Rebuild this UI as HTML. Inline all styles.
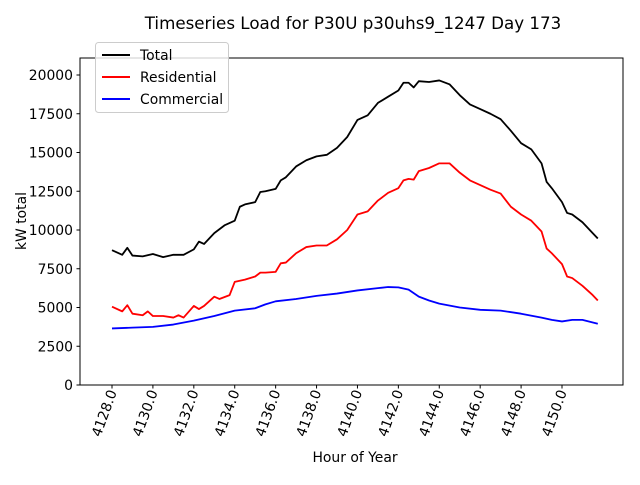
<!DOCTYPE html>
<html><head><meta charset="utf-8"><style>
body{margin:0;background:#fff}
svg{font-family:"DejaVu Sans","Liberation Sans",sans-serif}
</style></head><body>
<svg id="chart" width="640" height="480">
<text x="353" y="29" font-size="16.7" text-anchor="middle">Timeseries Load for P30U p30uhs9_1247  Day 173</text>
<text x="355" y="462" font-size="13.9" text-anchor="middle">Hour of Year</text>
<text transform="translate(26,221) rotate(-90)" font-size="13.9" text-anchor="middle">kW total</text>
<g id="ticks"></g>
<g id="lines"></g>
<rect x="80" y="58" width="543" height="327" fill="none" stroke="#000" stroke-width="1"/>
<g>
<rect x="95.5" y="42.5" width="133" height="70" rx="3" fill="#fff" fill-opacity="0.8" stroke="#ccc"/>
<line x1="102" y1="55" x2="130" y2="55" stroke="#000" stroke-width="2"/>
<text x="140" y="60" font-size="13.9">Total</text>
<line x1="102" y1="77" x2="130" y2="77" stroke="#f00" stroke-width="2"/>
<text x="140" y="82" font-size="13.9">Residential</text>
<line x1="102" y1="99" x2="130" y2="99" stroke="#00f" stroke-width="2"/>
<text x="140" y="104" font-size="13.9">Commercial</text>
</g>
</svg>
<script>
const xTicks=[4128,4130,4132,4134,4136,4138,4140,4142,4144,4146,4148,4150];
const yTicks=[0,2500,5000,7500,10000,12500,15000,17500,20000];
const totalHours=[4128,4128.5,4128.75,4129,4129.5,4130,4130.5,4131,4131.5,4132,4132.25,4132.5,4133,4133.5,4134,4134.25,4134.5,4135,4135.25,4135.5,4136,4136.25,4136.5,4137,4137.5,4138,4138.5,4139,4139.5,4140,4140.5,4141,4141.5,4142,4142.25,4142.5,4142.75,4143,4143.5,4144,4144.5,4145,4145.5,4146,4146.5,4147,4147.5,4148,4148.5,4149,4149.25,4149.5,4150,4150.25,4150.5,4151,4151.5,4151.75];
const totalValues=[8700,8400,8850,8350,8300,8450,8250,8400,8400,8750,9250,9100,9800,10300,10600,11500,11650,11800,12450,12500,12650,13200,13400,14100,14500,14750,14850,15300,16000,17100,17400,18200,18600,19000,19500,19500,19200,19600,19550,19650,19400,18700,18100,17800,17500,17150,16400,15600,15200,14300,13100,12700,11800,11100,11000,10500,9800,9450];
const resHours=[4128,4128.5,4128.75,4129,4129.5,4129.75,4130,4130.5,4131,4131.25,4131.5,4132,4132.25,4132.5,4133,4133.25,4133.75,4134,4134.5,4135,4135.25,4135.5,4136,4136.25,4136.5,4137,4137.5,4138,4138.5,4139,4139.5,4140,4140.5,4141,4141.5,4142,4142.25,4142.5,4142.75,4143,4143.5,4144,4144.5,4145,4145.5,4146,4146.5,4147,4147.5,4148,4148.5,4149,4149.25,4149.5,4150,4150.25,4150.5,4151,4151.5,4151.75];
const resValues=[5050,4750,5150,4600,4500,4750,4450,4450,4350,4500,4350,5100,4900,5100,5700,5550,5800,6650,6800,7000,7250,7250,7300,7850,7900,8500,8900,9000,9000,9400,10000,11000,11200,11900,12400,12700,13200,13300,13250,13800,14000,14300,14300,13700,13200,12900,12600,12350,11500,11000,10600,9900,8800,8500,7800,7000,6900,6400,5800,5450];
const comHours=[4128,4129,4130,4131,4132,4133,4134,4135,4135.5,4136,4137,4138,4139,4140,4141,4141.5,4142,4142.5,4143,4143.5,4144,4145,4146,4147,4148,4149,4149.5,4150,4150.5,4151,4151.75];
const comValues=[3650,3700,3750,3900,4150,4450,4800,4950,5200,5400,5550,5750,5900,6100,6250,6320,6300,6150,5700,5450,5250,5000,4850,4800,4600,4350,4200,4100,4200,4200,3950];
const NS="http://www.w3.org/2000/svg";
const xs=h=>112+(h-4128)*450/22;
const ys=v=>385-v*310/20000;
const tg=document.getElementById('ticks'),lg=document.getElementById('lines');
function mk(t,a){const e=document.createElementNS(NS,t);for(const k in a)e.setAttribute(k,a[k]);return e;}
xTicks.forEach(t=>{
 const x=xs(t);
 const l=mk('line',{x1:x,x2:x,y1:385,y2:388.5,stroke:'#000'});
 
 
 tg.appendChild(l);
 const tx=mk('text',{'font-size':13.9,'text-anchor':'end',transform:`translate(${x+5},${392}) rotate(-70)`});
 tx.textContent=t.toFixed(1);
 
 
 tg.appendChild(tx);
});
yTicks.forEach(t=>{
 const y=ys(t);
 const l=mk('line',{x1:76.5,x2:80,y1:y,y2:y,stroke:'#000'});
 
 
 tg.appendChild(l);
 const tx=mk('text',{x:73,y:y+5,'font-size':13.9,'text-anchor':'end'});
 tx.textContent=t;
 
 
 tg.appendChild(tx);
});
function series(hs,vs,color,name){
 const p=mk('polyline',{points:hs.map((h,i)=>xs(h)+','+ys(vs[i])).join(' '),fill:'none',stroke:color,'stroke-width':1.8,'stroke-linejoin':'round'});
 
 
 lg.appendChild(p);
}
series(totalHours,totalValues,'#000','total-line');
series(resHours,resValues,'#f00','residential-line');
series(comHours,comValues,'#00f','commercial-line');
</script>
</body></html>
